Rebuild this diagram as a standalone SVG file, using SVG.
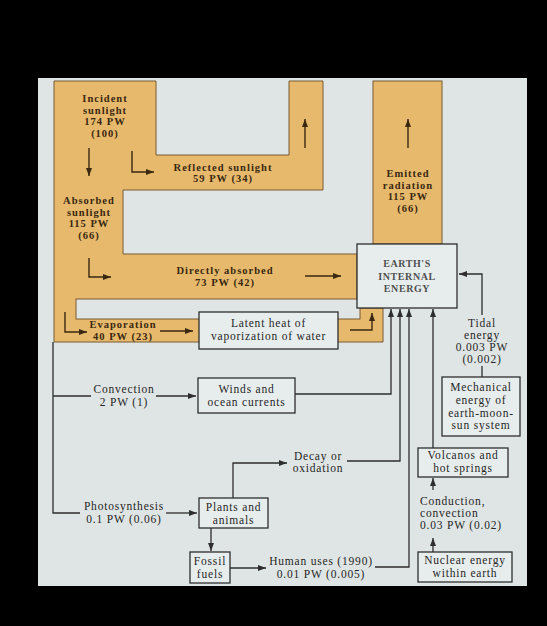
<svg xmlns="http://www.w3.org/2000/svg" width="547" height="626" viewBox="0 0 547 626">
<style>
.band{fill:#e6b96c;stroke:#7a5a30;stroke-width:1}
.hole{fill:#dfe5e4;stroke:#7a5a30;stroke-width:1}
.box{fill:#e7eded;stroke:#2e2e2e;stroke-width:1.3}
.ob{font-family:"Liberation Serif",serif;font-weight:bold;font-size:10.5px;letter-spacing:1px;fill:#3a2810;text-anchor:middle}
.t{font-family:"Liberation Serif",serif;font-size:11.5px;letter-spacing:0.8px;fill:#262626;text-anchor:middle}
.tl{font-family:"Liberation Serif",serif;font-size:11.5px;letter-spacing:0.8px;fill:#262626}
.cap{font-family:"Liberation Serif",serif;font-weight:bold;font-size:10px;letter-spacing:0.6px;fill:#505050;text-anchor:middle}
.c{fill:none;stroke:#2e2e2e;stroke-width:1.3}
.oa{fill:none;stroke:#3a2810;stroke-width:1.4}
</style>
<defs>
<marker id="ah" viewBox="0 0 8 6" refX="8" refY="3" markerWidth="8" markerHeight="6" markerUnits="userSpaceOnUse" orient="auto"><path d="M0,0 L8,3 L0,6 z" fill="#2e2e2e"/></marker>
<marker id="oh" viewBox="0 0 8 6" refX="8" refY="3" markerWidth="8" markerHeight="6" markerUnits="userSpaceOnUse" orient="auto"><path d="M0,0 L8,3 L0,6 z" fill="#3a2810"/></marker>
</defs>
<rect x="0" y="0" width="547" height="626" fill="#000"/>
<rect x="38" y="78" width="489" height="508" fill="#dfe5e4"/>

<g id="bands">
<path class="band" d="M54,81 H156 V155 H289 V81 H323 V190 H123 V254 H357 V308 H383 V342 H54 Z"/>
<rect class="hole" x="76" y="299" width="284" height="20"/>
<rect class="band" x="373" y="81" width="69" height="163"/>
</g>

<g id="band-labels">
<text class="ob" x="105" y="102">Incident</text>
<text class="ob" x="105" y="113.5">sunlight</text>
<text class="ob" x="105" y="125">174 PW</text>
<text class="ob" x="105" y="136.5">(100)</text>
<text class="ob" x="223" y="171">Reflected sunlight</text>
<text class="ob" x="223" y="182">59 PW (34)</text>
<text class="ob" x="89" y="204">Absorbed</text>
<text class="ob" x="89" y="215.5">sunlight</text>
<text class="ob" x="89" y="227">115 PW</text>
<text class="ob" x="89" y="238.5">(66)</text>
<text class="ob" x="408" y="177">Emitted</text>
<text class="ob" x="408" y="188.5">radiation</text>
<text class="ob" x="408" y="200">115 PW</text>
<text class="ob" x="408" y="211.5">(66)</text>
<text class="ob" x="225" y="274">Directly absorbed</text>
<text class="ob" x="225" y="286">73 PW (42)</text>
<text class="ob" x="123" y="328">Evaporation</text>
<text class="ob" x="123" y="339.5">40 PW (23)</text>
</g>

<g id="band-arrows">
<path class="oa" d="M89,148 V176" marker-end="url(#oh)"/>
<path class="oa" d="M132,151 V172 H154" marker-end="url(#oh)"/>
<path class="oa" d="M305,148 V119" marker-end="url(#oh)"/>
<path class="oa" d="M408,148 V119" marker-end="url(#oh)"/>
<path class="oa" d="M89,258 V277 H111" marker-end="url(#oh)"/>
<path class="oa" d="M305,276 H341" marker-end="url(#oh)"/>
<path class="oa" d="M65,312 V332 H87" marker-end="url(#oh)"/>
<path class="oa" d="M160,331 H193" marker-end="url(#oh)"/>
<path class="oa" d="M350,330 H372 V313" marker-end="url(#oh)"/>
</g>

<g id="connectors">
<path class="c" d="M53,342 V513 H80"/>
<path class="c" d="M53,396 H91"/>
<path class="c" d="M156,396 H196" marker-end="url(#ah)"/>
<path class="c" d="M166,513 H197" marker-end="url(#ah)"/>
<path class="c" d="M295,394 H391 V309" marker-end="url(#ah)"/>
<path class="c" d="M347,461 H400 V309" marker-end="url(#ah)"/>
<path class="c" d="M375,567 H409 V309" marker-end="url(#ah)"/>
<path class="c" d="M433,448 V309" marker-end="url(#ah)"/>
<path class="c" d="M433,490 V478" marker-end="url(#ah)"/>
<path class="c" d="M433,552 V538" marker-end="url(#ah)"/>
<path class="c" d="M482,366 V377"/>
<path class="c" d="M482,315 V274 H459" marker-end="url(#ah)"/>
<path class="c" d="M233,498 V463 H287" marker-end="url(#ah)"/>
<path class="c" d="M211,528 V551" marker-end="url(#ah)"/>
<path class="c" d="M230,568 H266" marker-end="url(#ah)"/>
</g>

<g id="earth">
<rect class="box" x="357" y="244" width="100" height="64"/>
<text class="cap" x="407" y="267">EARTH'S</text>
<text class="cap" x="407" y="279.5">INTERNAL</text>
<text class="cap" x="407" y="292">ENERGY</text>
</g>

<g id="latent">
<rect class="box" x="199" y="312" width="139" height="37"/>
<text class="t" x="268.5" y="327">Latent heat of</text>
<text class="t" x="268.5" y="340">vaporization of water</text>
</g>

<g id="winds">
<rect class="box" x="198" y="378" width="97" height="35"/>
<text class="t" x="246.5" y="393">Winds and</text>
<text class="t" x="246.5" y="406">ocean currents</text>
</g>

<g id="convection">
<text class="t" x="124" y="393">Convection</text>
<text class="t" x="124" y="406">2 PW (1)</text>
</g>

<g id="tidal">
<text class="t" x="482" y="327">Tidal</text>
<text class="t" x="482" y="339">energy</text>
<text class="t" x="482" y="351">0.003 PW</text>
<text class="t" x="482" y="363">(0.002)</text>
</g>

<g id="mechanical">
<rect class="box" x="442" y="377" width="78" height="59"/>
<text class="t" x="481" y="391">Mechanical</text>
<text class="t" x="481" y="404">energy of</text>
<text class="t" x="481" y="417">earth-moon-</text>
<text class="t" x="481" y="429">sun system</text>
</g>

<g id="decay">
<text class="t" x="318" y="460">Decay or</text>
<text class="t" x="318" y="472">oxidation</text>
</g>

<g id="volcanos">
<rect class="box" x="418" y="448" width="90" height="29"/>
<text class="t" x="463" y="459">Volcanos and</text>
<text class="t" x="463" y="472">hot springs</text>
</g>

<g id="conduction">
<text class="tl" x="420" y="505">Conduction,</text>
<text class="tl" x="420" y="517">convection</text>
<text class="tl" x="420" y="529">0.03 PW (0.02)</text>
</g>

<g id="photosynthesis">
<text class="t" x="124" y="510">Photosynthesis</text>
<text class="t" x="124" y="523">0.1 PW (0.06)</text>
</g>

<g id="plants">
<rect class="box" x="199" y="498" width="69" height="30"/>
<text class="t" x="233.5" y="511">Plants and</text>
<text class="t" x="233.5" y="524">animals</text>
</g>

<g id="fossil">
<rect class="box" x="190" y="552" width="40" height="31"/>
<text class="t" x="210" y="565">Fossil</text>
<text class="t" x="210" y="578">fuels</text>
</g>

<g id="human">
<text class="t" x="321" y="565">Human uses (1990)</text>
<text class="t" x="321" y="578">0.01 PW (0.005)</text>
</g>

<g id="nuclear">
<rect class="box" x="418" y="552" width="94" height="30"/>
<text class="t" x="465" y="564">Nuclear energy</text>
<text class="t" x="465" y="577">within earth</text>
</g>
</svg>
